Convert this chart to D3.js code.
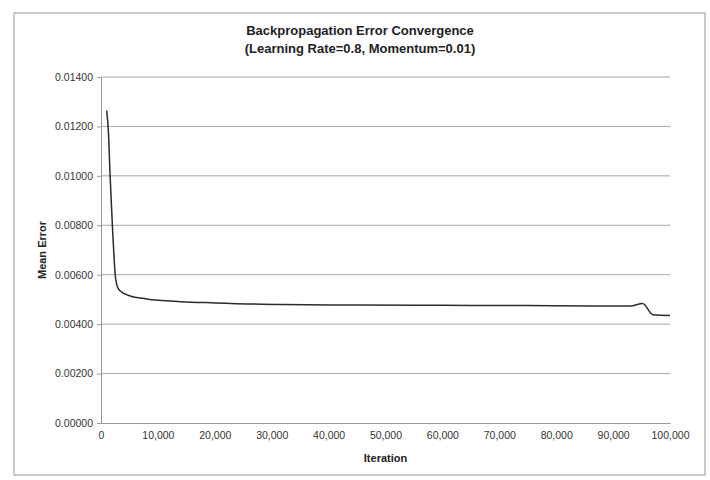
<!DOCTYPE html>
<html>
<head>
<meta charset="utf-8">
<script src="https://d3js.org/d3.v7.min.js"></script>
<style>
  body { margin: 0; background: #fff; }
  #chart { width: 710px; height: 480px; }
  text { font-family: "Liberation Sans", Arial, sans-serif; }
</style>
</head>
<body>
<div id="chart"></div>
<script>
// 数据：迭代次数与平均误差
const iterations = [1000, 1300, 1600, 2000, 2500, 2900, 3500, 5000, 8000, 14000, 20000, 32000, 45000, 60000, 75000, 88000, 93000, 95200, 97000, 100000];
const meanErrors = [0.01264, 0.0118, 0.0100, 0.0080, 0.0060, 0.0055, 0.00532, 0.00515, 0.00502, 0.00491, 0.00486, 0.00479, 0.00477, 0.00476, 0.00475, 0.00473, 0.00473, 0.00484, 0.00438, 0.00435];

const xTicks = [0, 10000, 20000, 30000, 40000, 50000, 60000, 70000, 80000, 90000, 100000];
const yTicks = [0, 0.002, 0.004, 0.006, 0.008, 0.010, 0.012, 0.014];

const titleLines = ["Backpropagation Error Convergence", "(Learning Rate=0.8, Momentum=0.01)"];

const margin = {top: 77, right: 40, bottom: 57, left: 101};
const W = 710, H = 480;
const width = W - margin.left - margin.right;
const height = H - margin.top - margin.bottom;

const svg = d3.select("#chart").append("svg")
    .attr("width", W)
    .attr("height", H);

// 外框
svg.append("rect")
    .attr("x", 14).attr("y", 13)
    .attr("width", 691).attr("height", 462)
    .attr("fill", "#fff")
    .attr("stroke", "#b8b8b8")
    .attr("stroke-width", 1.5);

const g = svg.append("g")
    .attr("transform", `translate(${margin.left},${margin.top})`);

const x = d3.scaleLinear().domain([0, 100000]).range([0, width]);
const y = d3.scaleLinear().domain([0, 0.014]).range([height, 0]);

// 网格线
g.selectAll(".grid")
    .data(yTicks.filter(d => d > 0))
    .enter().append("line")
    .attr("class", "grid")
    .attr("x1", 0).attr("x2", width)
    .attr("y1", d => y(d)).attr("y2", d => y(d))
    .attr("stroke", "#a6a6a6")
    .attr("stroke-width", 1);

// y 轴
const yAxis = g.append("g")
    .call(d3.axisLeft(y).tickValues(yTicks).tickFormat(d3.format(".5f")).tickSize(4).tickPadding(4));
yAxis.select(".domain").attr("stroke", "#999");
yAxis.selectAll(".tick line").attr("stroke", "#999");
yAxis.selectAll("text").attr("fill", "#333").style("font-size", "10.5px");

// x 轴
const xAxis = g.append("g")
    .attr("transform", `translate(0,${height})`)
    .call(d3.axisBottom(x).tickValues(xTicks).tickFormat(d3.format(",")).tickSize(0).tickPadding(9));
xAxis.select(".domain").attr("stroke", "#999");
xAxis.selectAll("text").attr("fill", "#333").style("font-size", "10.5px");

// 折线
const line = d3.line()
    .x((d, i) => x(iterations[i]))
    .y(d => y(d))
    .curve(d3.curveMonotoneX);

g.append("path")
    .datum(meanErrors)
    .attr("fill", "none")
    .attr("stroke", "#2b2b2b")
    .attr("stroke-width", 1.5)
    .attr("d", line);

// 标题
svg.append("text")
    .attr("x", 360).attr("y", 30)
    .attr("text-anchor", "middle")
    .attr("dominant-baseline", "central")
    .style("font-size", "13px").style("font-weight", "bold")
    .attr("fill", "#222")
    .selectAll("tspan")
    .data(titleLines)
    .enter().append("tspan")
    .attr("x", 360)
    .attr("dy", (d, i) => i === 0 ? 0 : 18)
    .text(d => d);

// 轴标题
svg.append("text")
    .attr("x", margin.left + width / 2).attr("y", 462)
    .attr("text-anchor", "middle")
    .style("font-size", "11px").style("font-weight", "bold")
    .attr("fill", "#222")
    .text("Iteration");

svg.append("text")
    .attr("transform", "translate(42,250) rotate(-90)")
    .attr("text-anchor", "middle")
    .attr("dominant-baseline", "central")
    .style("font-size", "11px").style("font-weight", "bold")
    .attr("fill", "#222")
    .text("Mean Error");
</script>
</body>
</html>
